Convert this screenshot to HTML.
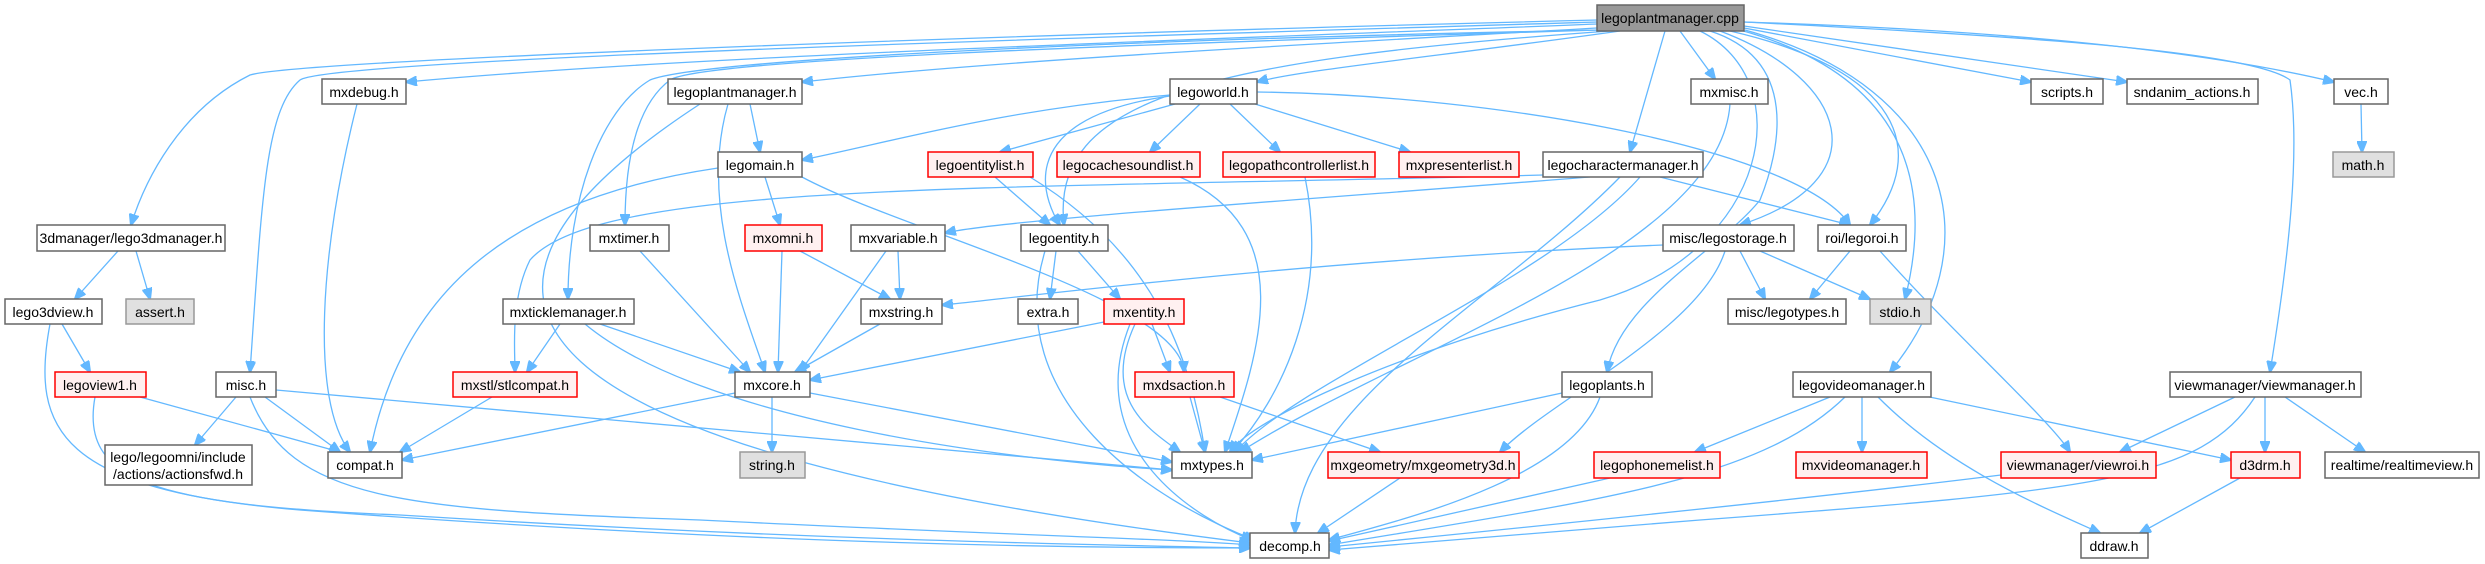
<!DOCTYPE html>
<html><head><meta charset="utf-8"><style>
html,body{margin:0;padding:0;background:#fff;}
svg{display:block;}
text{font-family:"Liberation Sans",Arial,sans-serif;font-size:14px;fill:#000;text-anchor:middle;}
.n{fill:#fff;stroke:#666;stroke-width:1.5;}
.r{fill:#fff0f0;stroke:#f00;stroke-width:1.5;}
.g{fill:#e0e0e0;stroke:#999;stroke-width:1.5;}
.c{fill:#999;stroke:#666;stroke-width:1.5;}
path{fill:none;stroke:#63b8ff;stroke-width:1.3;marker-end:url(#a);}
</style></head><body>
<svg width="2485" height="564" viewBox="0 0 2485 564" xmlns="http://www.w3.org/2000/svg">
<defs><marker id="a" markerWidth="12" markerHeight="10" refX="11" refY="5" orient="auto" markerUnits="userSpaceOnUse"><path d="M0,0 L12,5 L0,10 z" style="fill:#63b8ff;stroke:#63b8ff;marker-end:none"/></marker></defs>
<g>
<path d="M1597,20 C1000,35 300,60 250,75 C180,110 145,180 131,225"/>
<path d="M1597,22 C1000,40 330,60 300,80 C265,110 262,200 250,372"/>
<path d="M1597,24 C1200,40 700,55 406,82"/>
<path d="M1597,28 C1300,45 1000,60 802,82"/>
<path d="M1600,30 C1100,40 700,60 650,80 C600,110 568,200 568,299"/>
<path d="M1600,30 C1100,45 700,60 670,80 C630,110 625,180 625,225"/>
<path d="M1610,31 C1200,60 1050,100 1064,225"/>
<path d="M1620,31 C1450,55 1300,70 1257,82"/>
<path d="M1680,31 L1715,79"/>
<path d="M1665,31 L1630,152"/>
<path d="M1710,31 C1800,60 1780,150 1760,200 C1720,250 1620,300 1607,372"/>
<path d="M1700,31 C1800,80 1770,250 1600,300 C1400,350 1250,420 1230,452"/>
<path d="M1720,31 C1850,80 1880,180 1740,225"/>
<path d="M1730,31 C1900,70 1930,150 1870,225"/>
<path d="M1740,30 C1920,80 1930,200 1905,299"/>
<path d="M1745,30 C1960,90 1990,250 1890,372"/>
<path d="M1744,28 L2031,82"/>
<path d="M1744,26 L2127,82"/>
<path d="M1744,22 C2000,30 2200,50 2334,82"/>
<path d="M1744,22 C2000,35 2250,50 2290,80 C2300,150 2290,250 2270,372"/>
<path d="M750,104 L760,152"/>
<path d="M728,104 C700,200 740,300 765,372"/>
<path d="M700,104 C400,300 500,450 1250,543"/>
<path d="M718,168 C500,200 400,300 370,452"/>
<path d="M765,177 L780,225"/>
<path d="M802,177 C900,230 1180,300 1184,372"/>
<path d="M1170,95 C1000,110 900,140 802,160"/>
<path d="M1170,96 C1000,120 1050,210 1060,225"/>
<path d="M1175,104 L1000,152"/>
<path d="M1200,104 L1150,152"/>
<path d="M1230,104 L1280,152"/>
<path d="M1255,104 L1410,152"/>
<path d="M1257,92 C1500,95 1800,150 1850,225"/>
<path d="M995,177 L1050,225"/>
<path d="M1030,177 C1150,250 1190,350 1205,452"/>
<path d="M1180,177 C1300,230 1260,350 1225,452"/>
<path d="M1305,177 C1330,300 1280,400 1232,452"/>
<path d="M1590,177 C1300,200 1000,220 945,233"/>
<path d="M1543,175 C1000,190 600,180 530,260 C510,300 515,350 515,372"/>
<path d="M1660,177 L1850,225"/>
<path d="M1640,177 C1550,280 1300,380 1235,452"/>
<path d="M1620,177 C1500,300 1300,400 1295,533"/>
<path d="M782,251 L778,372"/>
<path d="M800,251 L890,299"/>
<path d="M886,251 L800,372"/>
<path d="M898,251 L900,299"/>
<path d="M640,251 L750,372"/>
<path d="M1056,251 L1050,299"/>
<path d="M1078,251 L1120,299"/>
<path d="M1045,251 C1000,400 1150,500 1255,540"/>
<path d="M1663,245 C1300,260 1000,300 942,305"/>
<path d="M1740,251 L1765,299"/>
<path d="M1760,251 L1870,299"/>
<path d="M1725,251 C1700,330 1550,400 1500,452"/>
<path d="M1850,251 L1810,299"/>
<path d="M1880,251 C1950,330 2050,420 2070,452"/>
<path d="M1730,104 C1720,250 1400,350 1240,452"/>
<path d="M118,251 L75,299"/>
<path d="M136,251 L150,299"/>
<path d="M50,324 C30,430 60,490 300,510 C700,540 1000,548 1250,548"/>
<path d="M62,324 L90,372"/>
<path d="M140,397 L340,452"/>
<path d="M95,397 C80,480 150,505 400,515 C800,540 1100,545 1250,548"/>
<path d="M236,397 L195,445"/>
<path d="M265,397 L340,452"/>
<path d="M276,390 L1172,470"/>
<path d="M250,397 C290,500 400,510 700,520 C1000,535 1200,540 1250,545"/>
<path d="M357,104 C320,250 310,400 350,452"/>
<path d="M560,324 L527,372"/>
<path d="M600,324 L740,372"/>
<path d="M585,324 C700,420 1000,460 1172,470"/>
<path d="M492,397 L400,452"/>
<path d="M735,393 L402,460"/>
<path d="M772,397 L772,452"/>
<path d="M810,393 L1172,462"/>
<path d="M880,324 L795,372"/>
<path d="M1104,322 L810,380"/>
<path d="M1152,324 L1170,372"/>
<path d="M1135,324 C1100,400 1150,430 1180,452"/>
<path d="M1130,324 C1080,450 1200,520 1252,540"/>
<path d="M1190,397 L1205,452"/>
<path d="M1220,397 L1380,452"/>
<path d="M1562,393 L1252,460"/>
<path d="M1600,397 C1570,480 1400,520 1329,540"/>
<path d="M1400,478 L1318,533"/>
<path d="M1610,478 L1329,541"/>
<path d="M1830,397 L1695,452"/>
<path d="M1862,397 L1862,452"/>
<path d="M1845,397 C1760,480 1600,500 1329,545"/>
<path d="M1878,397 C1950,470 2050,510 2100,533"/>
<path d="M1920,395 L2231,460"/>
<path d="M2235,397 L2120,452"/>
<path d="M2265,397 L2265,452"/>
<path d="M2285,397 L2365,452"/>
<path d="M2255,397 C2200,480 2100,490 1700,520 C1500,535 1400,545 1329,550"/>
<path d="M2001,475 C1800,500 1500,530 1329,547"/>
<path d="M2240,478 L2140,533"/>
<path d="M2361,104 L2362,152"/>
</g>
<g>
<rect class="c" x="1597" y="5" width="147" height="26"/><text x="1670" y="23">legoplantmanager.cpp</text>
<rect class="n" x="322" y="79" width="84" height="25"/><text x="364" y="97">mxdebug.h</text>
<rect class="n" x="668" y="79" width="134" height="25"/><text x="735" y="97">legoplantmanager.h</text>
<rect class="n" x="1170" y="79" width="87" height="25"/><text x="1213" y="97">legoworld.h</text>
<rect class="n" x="1691" y="79" width="77" height="25"/><text x="1729" y="97">mxmisc.h</text>
<rect class="n" x="2031" y="79" width="72" height="25"/><text x="2067" y="97">scripts.h</text>
<rect class="n" x="2127" y="79" width="131" height="25"/><text x="2192" y="97">sndanim_actions.h</text>
<rect class="n" x="2334" y="79" width="54" height="25"/><text x="2361" y="97">vec.h</text>
<rect class="n" x="718" y="152" width="84" height="25"/><text x="760" y="170">legomain.h</text>
<rect class="r" x="928" y="152" width="105" height="25"/><text x="980" y="170">legoentitylist.h</text>
<rect class="r" x="1057" y="152" width="143" height="25"/><text x="1128" y="170">legocachesoundlist.h</text>
<rect class="r" x="1223" y="152" width="152" height="25"/><text x="1299" y="170">legopathcontrollerlist.h</text>
<rect class="r" x="1399" y="152" width="120" height="25"/><text x="1459" y="170">mxpresenterlist.h</text>
<rect class="n" x="1543" y="152" width="160" height="25"/><text x="1623" y="170">legocharactermanager.h</text>
<rect class="g" x="2333" y="152" width="61" height="25"/><text x="2363" y="170">math.h</text>
<rect class="n" x="37" y="225" width="188" height="26"/><text x="131" y="243">3dmanager/lego3dmanager.h</text>
<rect class="n" x="590" y="225" width="79" height="26"/><text x="629" y="243">mxtimer.h</text>
<rect class="r" x="745" y="225" width="77" height="26"/><text x="783" y="243">mxomni.h</text>
<rect class="n" x="851" y="225" width="94" height="26"/><text x="898" y="243">mxvariable.h</text>
<rect class="n" x="1021" y="225" width="87" height="26"/><text x="1064" y="243">legoentity.h</text>
<rect class="n" x="1663" y="225" width="131" height="26"/><text x="1728" y="243">misc/legostorage.h</text>
<rect class="n" x="1818" y="225" width="88" height="26"/><text x="1862" y="243">roi/legoroi.h</text>
<rect class="n" x="5" y="299" width="97" height="25"/><text x="53" y="317">lego3dview.h</text>
<rect class="g" x="126" y="299" width="68" height="25"/><text x="160" y="317">assert.h</text>
<rect class="n" x="503" y="299" width="131" height="25"/><text x="568" y="317">mxticklemanager.h</text>
<rect class="n" x="861" y="299" width="81" height="25"/><text x="901" y="317">mxstring.h</text>
<rect class="n" x="1018" y="299" width="60" height="25"/><text x="1048" y="317">extra.h</text>
<rect class="r" x="1104" y="299" width="80" height="25"/><text x="1144" y="317">mxentity.h</text>
<rect class="n" x="1728" y="299" width="118" height="25"/><text x="1787" y="317">misc/legotypes.h</text>
<rect class="g" x="1870" y="299" width="61" height="25"/><text x="1900" y="317">stdio.h</text>
<rect class="r" x="55" y="372" width="91" height="25"/><text x="100" y="390">legoview1.h</text>
<rect class="n" x="216" y="372" width="60" height="25"/><text x="246" y="390">misc.h</text>
<rect class="r" x="453" y="372" width="124" height="25"/><text x="515" y="390">mxstl/stlcompat.h</text>
<rect class="n" x="735" y="372" width="75" height="25"/><text x="772" y="390">mxcore.h</text>
<rect class="r" x="1135" y="372" width="99" height="25"/><text x="1184" y="390">mxdsaction.h</text>
<rect class="n" x="1562" y="372" width="90" height="25"/><text x="1607" y="390">legoplants.h</text>
<rect class="n" x="1793" y="372" width="138" height="25"/><text x="1862" y="390">legovideomanager.h</text>
<rect class="n" x="2170" y="372" width="191" height="25"/><text x="2265" y="390">viewmanager/viewmanager.h</text>
<rect class="n" x="105" y="445" width="147" height="40"/><text x="178" y="462">lego/legoomni/include</text><text x="178" y="479">/actions/actionsfwd.h</text>
<rect class="n" x="328" y="452" width="74" height="26"/><text x="365" y="470">compat.h</text>
<rect class="g" x="740" y="452" width="65" height="26"/><text x="772" y="470">string.h</text>
<rect class="n" x="1172" y="452" width="80" height="26"/><text x="1212" y="470">mxtypes.h</text>
<rect class="r" x="1328" y="452" width="191" height="26"/><text x="1423" y="470">mxgeometry/mxgeometry3d.h</text>
<rect class="r" x="1594" y="452" width="126" height="26"/><text x="1657" y="470">legophonemelist.h</text>
<rect class="r" x="1796" y="452" width="131" height="26"/><text x="1861" y="470">mxvideomanager.h</text>
<rect class="r" x="2001" y="452" width="155" height="26"/><text x="2078" y="470">viewmanager/viewroi.h</text>
<rect class="r" x="2231" y="452" width="69" height="26"/><text x="2265" y="470">d3drm.h</text>
<rect class="n" x="2325" y="452" width="154" height="26"/><text x="2402" y="470">realtime/realtimeview.h</text>
<rect class="n" x="1250" y="533" width="79" height="25"/><text x="1290" y="551">decomp.h</text>
<rect class="n" x="2081" y="533" width="67" height="25"/><text x="2114" y="551">ddraw.h</text>
</g>
</svg>
</body></html>
